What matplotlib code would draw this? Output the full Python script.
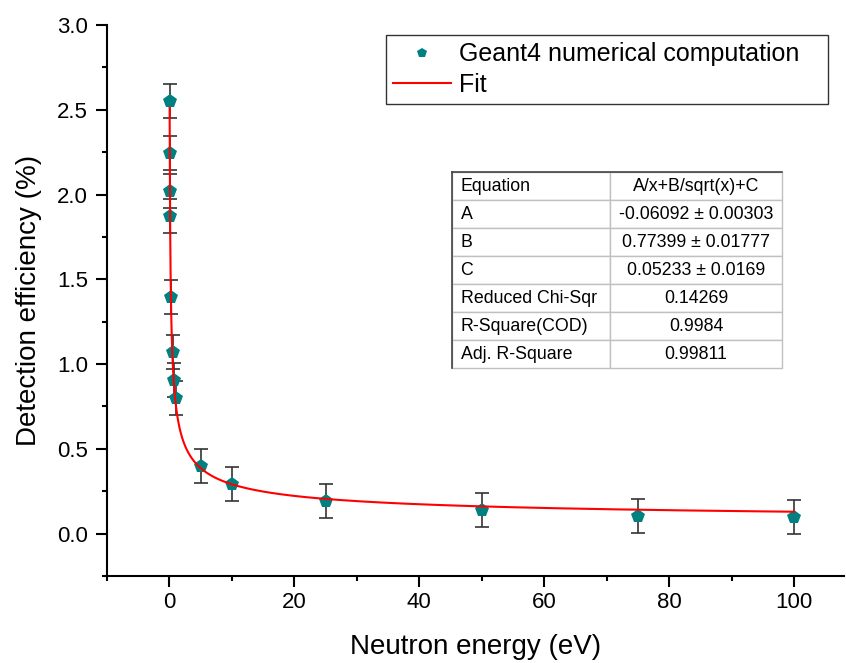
import numpy as np
import matplotlib
matplotlib.use("Agg")
import matplotlib.pyplot as plt
from matplotlib.ticker import MultipleLocator

plt.rcParams['font.family'] = ['Liberation Sans', 'DejaVu Sans']

# Geant4 results
energy = [0.025, 0.05, 0.075, 0.1, 0.25, 0.5, 0.75, 1, 5, 10, 25, 50, 75, 100]
efficiency = [2.55, 2.245, 2.02, 1.875, 1.395, 1.07, 0.905, 0.80,
              0.40, 0.29, 0.19, 0.14, 0.105, 0.10]
err = [0.1] * len(energy)

# fit parameters (A/x + B/sqrt(x) + C)
A, B, C = -0.06092, 0.77399, 0.05233

table_rows = [
    ["Equation", "A/x+B/sqrt(x)+C"],
    ["A", "-0.06092 \u00b1 0.00303"],
    ["B", "0.77399 \u00b1 0.01777"],
    ["C", "0.05233 \u00b1 0.0169"],
    ["Reduced Chi-Sqr", "0.14269"],
    ["R-Square(COD)", "0.9984"],
    ["Adj. R-Square", "0.99811"],
]

W, H = 846, 663
fig = plt.figure(figsize=(W / 100, H / 100), dpi=100)
ax = fig.add_axes([107 / W, 87 / H, 737 / W, 551 / H])

ax.errorbar(energy, efficiency, yerr=err, fmt='none', ecolor='#333333',
            elinewidth=1.2, capsize=4.8, capthick=1.2, zorder=2)
ax.plot(energy, efficiency, 'p', color='#008080', markersize=10,
        markeredgewidth=0, zorder=3, label='Geant4 numerical computation   ')

xf = np.geomspace(0.025, 100, 600)
ax.plot(xf, A / xf + B / np.sqrt(xf) + C, color='red', lw=1.5,
        zorder=4, label='Fit')

ax.set_xlim(-10, 108)
ax.set_ylim(-0.25, 3.0)
ax.xaxis.set_major_locator(MultipleLocator(20))
ax.xaxis.set_minor_locator(MultipleLocator(10))
ax.yaxis.set_major_locator(MultipleLocator(0.5))
ax.yaxis.set_minor_locator(MultipleLocator(0.25))
ax.yaxis.set_major_formatter(matplotlib.ticker.FormatStrFormatter('%.1f'))

for s in ['top', 'right']:
    ax.spines[s].set_visible(False)
for s in ['left', 'bottom']:
    ax.spines[s].set_linewidth(1.5)

ax.tick_params(which='major', direction='out', length=7.7, width=1.5,
               labelsize=16)
ax.tick_params(which='minor', direction='out', length=3.8, width=1.5)
ax.tick_params(axis='y', which='major', pad=6)
ax.tick_params(axis='x', which='major', pad=4)

ax.set_xlabel('Neutron energy (eV)', fontsize=20, labelpad=15)
ax.set_ylabel('Detection efficiency (%)', fontsize=20, labelpad=11)

leg = ax.legend(loc='upper right', bbox_to_anchor=(0.978, 0.982),
                borderaxespad=0, fontsize=18, frameon=True, fancybox=False,
                edgecolor='#333333', framealpha=1, markerscale=0.75,
                handlelength=2.3, handletextpad=0.32, borderpad=0.3,
                labelspacing=0.25)
leg.get_frame().set_linewidth(1.0)

tb = ax.table(cellText=table_rows, cellLoc='center', colWidths=[0.479, 0.521],
              bbox=[0.468, 0.377, 0.448, 0.356])
tb.auto_set_font_size(False)
for (r, c), cell in tb.get_celld().items():
    cell.set_edgecolor('#c0c0c0')
    cell.set_linewidth(1.0)
    cell.get_text().set_fontsize(12.8)
    if c == 0:
        cell.get_text().set_horizontalalignment('left')
        cell.PAD = 0.055
ax.plot([0.468, 0.916], [0.733, 0.733], transform=ax.transAxes,
        color='#444444', lw=1.2, zorder=10, clip_on=False)
ax.plot([0.468, 0.468], [0.377, 0.733], transform=ax.transAxes,
        color='#444444', lw=1.2, zorder=10, clip_on=False)

fig.savefig('out.png', dpi=100)
